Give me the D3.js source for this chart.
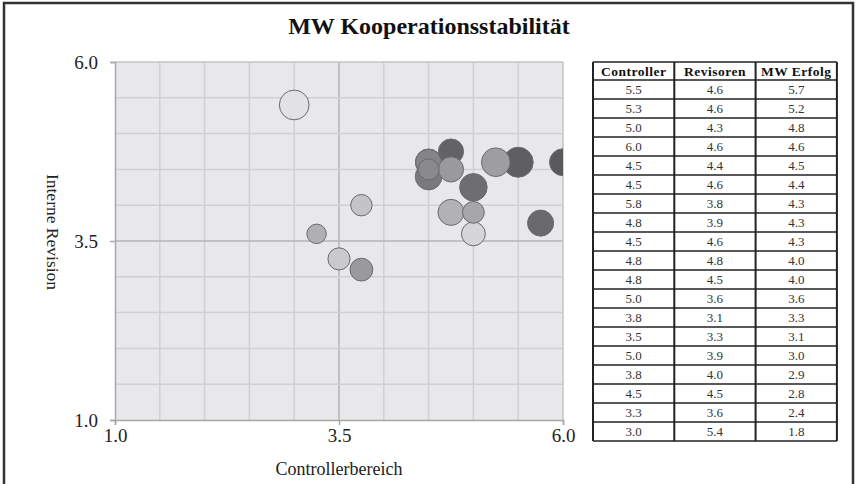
<!DOCTYPE html>
<html>
<head>
<meta charset="utf-8">
<script src="https://cdn.jsdelivr.net/npm/d3@7"></script>
<style>
body { margin: 0; background: #fff; }
svg text { font-family: "Liberation Serif", "Times New Roman", serif; }
</style>
</head>
<body>
<div id="chart"></div>
<script>
// values (table rows, top to bottom)
var controller = [5.5, 5.25, 5.0, 6.0, 4.5, 4.5, 5.75, 4.75, 4.5, 4.75, 4.75, 5.0, 3.75, 3.5, 5.0, 3.75, 4.5, 3.25, 3.0];
var revisoren  = [4.6, 4.6, 4.25, 4.6, 4.4, 4.6, 3.75, 3.9, 4.6, 4.75, 4.5, 3.6, 3.1, 3.25, 3.9, 4.0, 4.5, 3.6, 5.4];
var erfolg     = [5.7, 5.2, 4.8, 4.6, 4.5, 4.4, 4.3, 4.3, 4.3, 4.0, 4.0, 3.6, 3.3, 3.1, 3.0, 2.9, 2.8, 2.4, 1.8];
// bubble sizes as drawn (the last one is drawn large and white)
var bubbleSize = [5.7, 5.2, 4.8, 4.6, 4.5, 4.4, 4.3, 4.3, 4.3, 4.0, 4.0, 3.6, 3.3, 3.1, 3.0, 2.9, 2.8, 2.4, 5.6];
var fills = ['#5f5f61', '#9e9ea0', '#6e6e70', '#5a5a5c', '#7a7a7c', '#808082', '#6a6a6c', '#b2b2b4', '#858587',
             '#636365', '#9a9a9c', '#d6d6d8', '#9a9a9c', '#cacacc', '#a6a6a8', '#c4c4c6', '#8a8a8c', '#b0b0b2', '#e2e2e4'];
var axisTicks = [1.0, 3.5, 6.0];
var columns = ['Controller', 'Revisoren', 'MW Erfolg'];

var width = 856, height = 484;
var plot = {left: 115, top: 62, right: 563, bottom: 420};

var svg = d3.select('#chart')
  .append('svg')
  .attr('width', width)
  .attr('height', height);

// outer frame
svg.append('rect')
  .attr('x', 4).attr('y', 3)
  .attr('width', 849).attr('height', 486)
  .attr('fill', 'none')
  .attr('stroke', '#333')
  .attr('stroke-width', 2.5);

svg.append('text')
  .attr('x', 429).attr('y', 34)
  .attr('text-anchor', 'middle')
  .attr('font-size', 24)
  .attr('font-weight', 'bold')
  .attr('fill', '#111')
  .text('MW Kooperationsstabilität');

var x = d3.scaleLinear().domain([1, 6]).range([plot.left, plot.right]);
var y = d3.scaleLinear().domain([1, 6]).range([plot.bottom, plot.top]);
var r = d3.scaleSqrt().domain([0, 5.7]).range([0, 15]);

svg.append('rect')
  .attr('x', plot.left).attr('y', plot.top)
  .attr('width', plot.right - plot.left)
  .attr('height', plot.bottom - plot.top)
  .attr('fill', '#e8e8ea');

var grid = d3.range(1.5, 6, 0.5);
svg.append('g').selectAll('line')
  .data(grid)
  .enter().append('line')
  .attr('x1', function(d) { return x(d); })
  .attr('x2', function(d) { return x(d); })
  .attr('y1', plot.top).attr('y2', plot.bottom)
  .attr('stroke', function(d) { return d === 3.5 ? '#b4b4b6' : '#d0d0d2'; })
  .attr('stroke-width', 1.5);

svg.append('g').selectAll('line')
  .data(grid)
  .enter().append('line')
  .attr('y1', function(d) { return y(d); })
  .attr('y2', function(d) { return y(d); })
  .attr('x1', plot.left).attr('x2', plot.right)
  .attr('stroke', function(d) { return d === 3.5 ? '#b4b4b6' : '#d0d0d2'; })
  .attr('stroke-width', 1.5);

// plot edges
svg.append('line')
  .attr('x1', plot.left).attr('x2', plot.right)
  .attr('y1', plot.top).attr('y2', plot.top)
  .attr('stroke', '#c4c4c6').attr('stroke-width', 1.5);
svg.append('line')
  .attr('x1', plot.right).attr('x2', plot.right)
  .attr('y1', plot.top).attr('y2', plot.bottom)
  .attr('stroke', '#c4c4c6').attr('stroke-width', 1.5);

var xAxis = d3.axisBottom(x).tickValues(axisTicks).tickFormat(d3.format('.1f')).tickSize(5).tickPadding(4);
var yAxis = d3.axisLeft(y).tickValues(axisTicks).tickFormat(d3.format('.1f')).tickSize(5).tickPadding(12);

var gx = svg.append('g')
  .attr('transform', 'translate(0,' + plot.bottom + ')')
  .call(xAxis);
var gy = svg.append('g')
  .attr('transform', 'translate(' + plot.left + ',0)')
  .call(yAxis);

[gx, gy].forEach(function(g) {
  g.select('.domain').attr('stroke', '#a8a8aa').attr('stroke-width', 1.5);
  g.selectAll('.tick line').attr('stroke', '#a8a8aa').attr('stroke-width', 1.5);
  g.selectAll('.tick text')
    .attr('font-family', '"Liberation Serif", serif')
    .attr('font-size', 19)
    .attr('fill', '#222');
});

svg.append('text')
  .attr('x', (plot.left + plot.right) / 2).attr('y', 475)
  .attr('text-anchor', 'middle')
  .attr('font-size', 18)
  .attr('fill', '#222')
  .text('Controllerbereich');

svg.append('text')
  .attr('transform', 'translate(47,232) rotate(90)')
  .attr('text-anchor', 'middle')
  .attr('font-size', 17.5)
  .attr('fill', '#222')
  .text('Interne Revision');

// bubbles
svg.append('clipPath').attr('id', 'clip')
  .append('rect')
  .attr('x', plot.left).attr('y', plot.top)
  .attr('width', plot.right - plot.left)
  .attr('height', plot.bottom - plot.top);

svg.append('g')
  .attr('clip-path', 'url(#clip)')
  .selectAll('circle')
  .data(controller)
  .enter().append('circle')
  .attr('cx', function(d) { return x(d); })
  .attr('cy', function(d, i) { return y(revisoren[i]); })
  .attr('r', function(d, i) { return r(bubbleSize[i]); })
  .attr('fill', function(d, i) { return fills[i]; })
  .attr('stroke', '#6a6a6c')
  .attr('stroke-width', 1);

// table
var fmt = d3.format('.1f');
var tableX = 593, tableY = 62, colW = 81.3, headH = 18, rowH = 19;
var rows = controller.map(function(d, i) { return [d, revisoren[i], erfolg[i]]; });
var table = svg.append('g');

table.selectAll('.head')
  .data(columns)
  .enter().append('text')
  .attr('class', 'head')
  .attr('x', function(d, i) { return tableX + colW * i + colW / 2; })
  .attr('y', tableY + headH / 2 + 4.8)
  .attr('text-anchor', 'middle')
  .attr('font-size', 13.5)
  .attr('font-weight', 'bold')
  .attr('letter-spacing', 0.5)
  .attr('fill', '#111')
  .text(function(d) { return d; });

var tr = table.selectAll('.row')
  .data(rows)
  .enter().append('g')
  .attr('transform', function(d, i) { return 'translate(0,' + (tableY + headH + rowH * i) + ')'; });

tr.selectAll('text')
  .data(function(d) { return d; })
  .enter().append('text')
  .attr('x', function(d, i) { return tableX + colW * i + colW / 2; })
  .attr('y', rowH / 2 + 4.5)
  .attr('text-anchor', 'middle')
  .attr('font-size', 13)
  .attr('fill', '#333')
  .text(function(d) { return fmt(d); });

var tableBottom = tableY + headH + rowH * rows.length;

table.selectAll('.hline')
  .data(d3.range(rows.length + 1))
  .enter().append('line')
  .attr('x1', tableX).attr('x2', tableX + colW * columns.length)
  .attr('y1', function(d) { return tableY + headH + rowH * d; })
  .attr('y2', function(d) { return tableY + headH + rowH * d; })
  .attr('stroke', '#222')
  .attr('stroke-width', 1.3);

table.append('line')
  .attr('x1', tableX).attr('x2', tableX + colW * columns.length)
  .attr('y1', tableY).attr('y2', tableY)
  .attr('stroke', '#222')
  .attr('stroke-width', 1.5);

table.selectAll('.vline')
  .data(d3.range(columns.length + 1))
  .enter().append('line')
  .attr('x1', function(d) { return tableX + colW * d; })
  .attr('x2', function(d) { return tableX + colW * d; })
  .attr('y1', tableY).attr('y2', tableBottom)
  .attr('stroke', '#222')
  .attr('stroke-width', 2);
</script>
</body>
</html>
